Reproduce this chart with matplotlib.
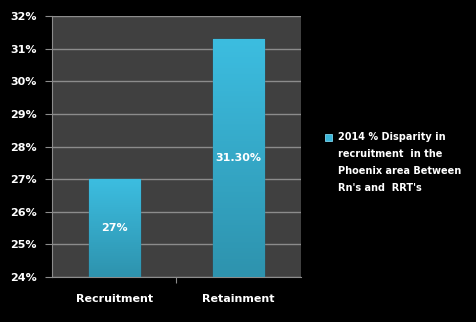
import numpy as np
import matplotlib.pyplot as plt
from matplotlib.colors import LinearSegmentedColormap
from matplotlib.patches import Rectangle

categories = ['Recruitment', 'Retainment']
values = [27.0, 31.3]
value_labels = ['27%', '31.30%']
series_name = "2014 % Disparity in\nrecruitment  in the\nPhoenix area Between\nRn's and  RRT's"
y_ticks = [24, 25, 26, 27, 28, 29, 30, 31, 32]

plt.rcParams['font.family'] = ['DejaVu Sans']
plt.rcParams['font.weight'] = 'bold'

fig = plt.figure(figsize=(4.77, 3.22), dpi=100, facecolor='black')
ax = fig.add_axes([0.109, 0.140, 0.522, 0.810])
ax.set_facecolor('#404040')

x = np.arange(len(categories))
bars = ax.bar(x, values, width=0.41, bottom=0, color='#37AFD0',
              edgecolor='#23708A', linewidth=1.0, zorder=3)

# vertical gradient inside each bar
grad = LinearSegmentedColormap.from_list('g', ['#2E93AE', '#3CBDE0'])
for b in bars:
    x0, w, h = b.get_x(), b.get_width(), b.get_height()
    img = ax.imshow(np.linspace(0, 1, 100).reshape(-1, 1), cmap=grad,
                    extent=[x0, x0 + w, 24, h], origin='lower',
                    aspect='auto', zorder=3.5)
    img.set_clip_path(b)

for xi, v, lab in zip(x, values, value_labels):
    ax.text(xi, (24 + v) / 2, lab, ha='center', va='center',
            color='white', fontsize=8, fontweight='bold', zorder=5)

ax.set_xlim(-0.5, 1.5)
ax.set_ylim(24, 32)
ax.set_yticks(y_ticks)
ax.set_yticklabels([f'{t}%' for t in y_ticks])
ax.yaxis.grid(True, color='#8C8C8C', linewidth=1.0, zorder=1)
ax.set_axisbelow(True)

ax.set_xticks([0.5])
ax.set_xticklabels([''])
ax.tick_params(axis='x', length=4, color='#8C8C8C', direction='out')
for xi, c in zip(x, categories):
    ax.text(xi, -0.085, c, transform=ax.get_xaxis_transform(), ha='center',
            va='center', color='white', fontsize=8, fontweight='bold')

ax.tick_params(axis='y', length=5, color='#8C8C8C', labelcolor='white',
               labelsize=8, pad=6)
for lbl in ax.get_yticklabels():
    lbl.set_fontweight('bold')

for s in ['top', 'right']:
    ax.spines[s].set_visible(False)
ax.spines['left'].set_color('#8C8C8C')
ax.spines['bottom'].set_color('#8C8C8C')

# legend drawn by hand so the key sits next to the first line
fig.patches.append(Rectangle((325 / 477, 1 - 141 / 322), 7 / 477, 7 / 322,
                             transform=fig.transFigure, facecolor='#3AB6D9',
                             edgecolor='#7FD6EE', linewidth=0.6))
fig.text(338 / 477, 1 - 132 / 322, series_name, color='white', fontsize=7,
         fontweight='bold', ha='left', va='top', linespacing=1.88)

fig.savefig('out.png', dpi=100, facecolor='black')
